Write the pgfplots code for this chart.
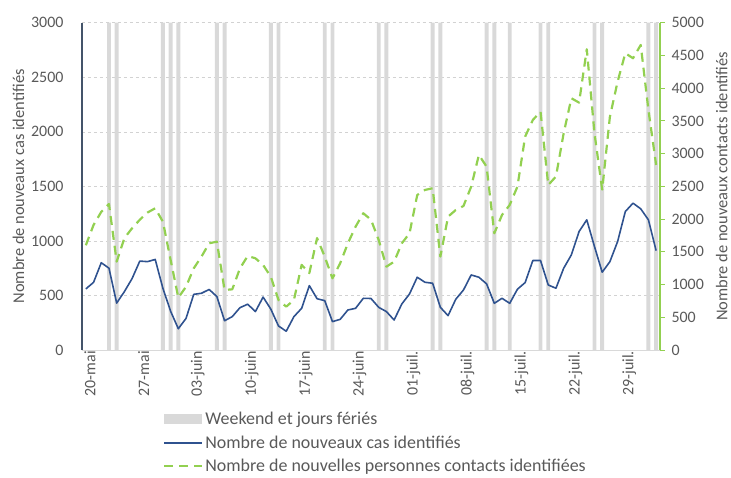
\documentclass[border=0pt]{standalone}
\usepackage{pgfplots}
\pgfplotsset{compat=1.18}
\usepackage{pgfplotstable}
\usepackage{fontspec}
\setmainfont{Carlito}
\definecolor{casblue}{RGB}{47,82,143}
\definecolor{contgreen}{RGB}{146,208,80}
\definecolor{wkgray}{RGB}{217,217,217}
\definecolor{txtgray}{RGB}{89,89,89}
\definecolor{axblue}{RGB}{68,84,106}
\pgfplotsset{
  mylinelegend/.style={legend image code/.code={\draw[##1] (0bp,0bp) -- (38bp,0bp);}},
  myboxlegend/.style={legend image code/.code={\fill[wkgray] (0bp,-4.5bp) rectangle (38bp,5bp);}},
}

\pgfplotstableread{
i cas cont
0 560 1600
1 620 1910
2 800 2110
3 750 2230
4 430 1350
5 535 1710
6 655 1860
7 815 1990
8 810 2100
9 830 2165
10 565 1960
11 355 1375
12 195 800
13 290 967
14 510 1248
15 520 1426
16 555 1630
17 490 1655
18 268 917
19 306 927
20 388 1248
21 420 1436
22 352 1401
23 485 1299
24 375 1120
25 220 764
26 172 662
27 306 764
28 382 1300
29 590 1175
30 470 1710
31 452 1426
32 260 1095
33 281 1325
34 367 1630
35 382 1884
36 474 2089
37 472 1990
38 391 1681
39 352 1273
40 275 1349
41 422 1630
42 514 1783
43 667 2368
44 621 2445
45 612 2471
46 391 1426
47 315 2037
48 465 2139
49 550 2200
50 688 2496
51 667 2980
52 606 2801
53 428 1783
54 474 2063
55 428 2216
56 557 2496
57 618 3260
58 820 3514
59 820 3641
60 596 2521
61 566 2650
62 749 3311
63 872 3846
64 1086 3779
65 1193 4595
66 948 3311
67 713 2450
68 810 3565
69 994 4100
70 1269 4534
71 1346 4457
72 1294 4660
73 1193 3667
74 911 2827
}\data

\pgfplotstableread{
i v
3 3000
4 3000
10 3000
11 3000
12 3000
17 3000
18 3000
24 3000
25 3000
31 3000
32 3000
38 3000
39 3000
45 3000
46 3000
52 3000
53 3000
55 3000
59 3000
60 3000
66 3000
67 3000
73 3000
74 3000
}\wk

\begin{document}
\begin{tikzpicture}
\useasboundingbox (-82bp,-128bp) rectangle (649bp,350bp);
\begin{axis}[
  at={(0,0)}, anchor=south west,
  scale only axis, width=578bp, height=327.3bp,
  xmin=-0.5, xmax=74.5, ymin=0, ymax=3000,
  axis y line*=left, axis x line*=bottom,
  y axis line style={axblue, line width=1.4pt, -},
  x axis line style={wkgray, line width=1pt, -},
  major tick length=0pt,
  ytick={0,500,...,3000},
  xtick={0,7,...,70},
  xticklabels={20-mai,27-mai,03-juin,10-juin,17-juin,24-juin,01-juil.,08-juil.,15-juil.,22-juil.,29-juil.},
  /pgf/number format/assume math mode=true,
  /pgf/number format/1000 sep={},
  scaled ticks=false,
  x tick label style={rotate=90, anchor=east, font=\fontsize{16}{18}\selectfont, text=txtgray, inner sep=1pt, yshift=-4bp},
  yticklabel style={font=\fontsize{16}{18}\selectfont, text=txtgray, xshift=-15bp},
  ymajorgrids, grid style={dashed, gray!35, line width=0.5pt},
  ylabel={Nombre de nouveaux cas identifiés},
  ylabel style={at={(axis description cs:-0.11,0.5)}, anchor=center, font=\fontsize{16.5}{18}\selectfont, text=txtgray},
  legend style={at={(axis description cs:0.1384,-0.181)}, anchor=north west, draw=none, fill=none,
    font=\fontsize{18}{20}\selectfont, text=txtgray, row sep=5.5bp, inner sep=1pt},
  legend cell align=left,
]
\addplot[ybar, bar width=3.9bp, bar shift=0pt, fill=wkgray, draw=none, myboxlegend] table[x=i, y=v] {\wk};
\addlegendentry{Weekend et jours fériés}
\addplot[casblue, line width=1.6pt, line join=round, mylinelegend] table[x=i, y=cas] {\data};
\addlegendentry{Nombre de nouveaux cas identifiés}
\addlegendimage{contgreen, line width=2.2pt, dash pattern=on 9bp off 6bp, mylinelegend}
\addlegendentry{Nombre de nouvelles personnes contacts identifiées}
\end{axis}
\begin{axis}[
  at={(0,0)}, anchor=south west,
  scale only axis, width=578bp, height=327.3bp,
  xmin=-0.5, xmax=74.5, ymin=0, ymax=5000,
  axis y line*=right, axis x line=none,
  y axis line style={contgreen, line width=1.2pt, -},
  ytick style={contgreen, line width=1pt},
  tick align=outside, major tick length=5bp,
  ytick={0,500,...,5000},
  /pgf/number format/assume math mode=true,
  /pgf/number format/1000 sep={},
  scaled ticks=false,
  yticklabel style={font=\fontsize{16}{18}\selectfont, text=txtgray, xshift=3bp},
  ylabel={Nombre de nouveaux contacts identifiés},
  ylabel style={at={(axis description cs:1.107,0.5)}, anchor=center, font=\fontsize{16.5}{18}\selectfont, text=txtgray},
]
\addplot[contgreen, line width=2.2pt, dash pattern=on 9bp off 6bp, line join=round] table[x=i, y=cont] {\data};
\end{axis}
\end{tikzpicture}
\end{document}
